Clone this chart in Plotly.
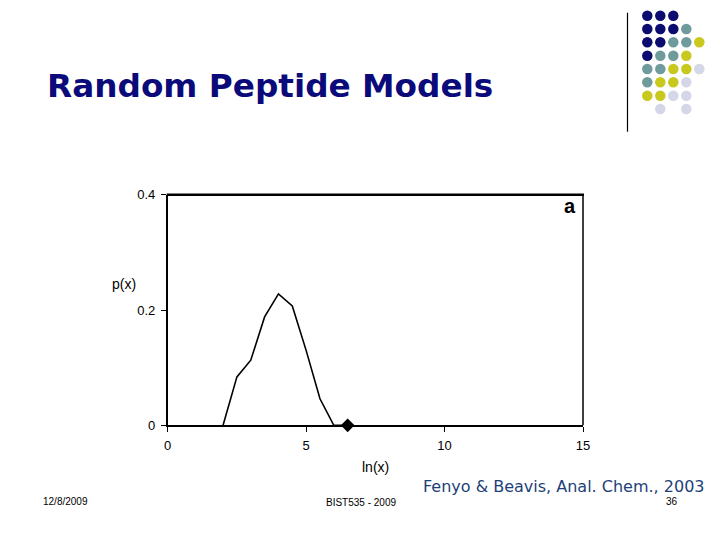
import plotly.graph_objects as go

# ---- data ----
ln_x = [2.0, 2.5, 3.0, 3.5, 4.0, 4.5, 5.0, 5.5, 6.0, 6.5]
p_x = [0.0, 0.084, 0.113, 0.188, 0.228, 0.207, 0.130, 0.046, 0.0, 0.0]
marker_x = [6.5]
marker_y = [0.0]
x_ticks = [0, 5, 10, 15]
y_ticks = [0, 0.2, 0.4]
y_tick_labels = ["0", "0.2", "0.4"]

# decorative dot grid (rows top->bottom, columns left->right); None = empty
dot_grid = [
    ["N", "N", "N", None, None],
    ["N", "N", "N", "T", None],
    ["N", "N", "T", "T", "Y"],
    ["N", "T", "T", "Y", None],
    ["T", "T", "Y", "Y", "L"],
    ["T", "Y", "Y", "L", None],
    ["Y", "Y", "L", "L", None],
    [None, "L", None, "L", None],
]
dot_colors = {"N": "#0b0b70", "T": "#6f9b9d", "Y": "#c8c81e", "L": "#d5d6e8"}

W, H = 720, 540
x0, x1 = 167.7, 583.0
y0, y1 = 194.7, 425.3

fig = go.Figure()

fig.add_trace(go.Scatter(
    x=ln_x, y=p_x, mode="lines",
    line=dict(color="black", width=1.6),
    showlegend=False, hoverinfo="skip",
))
fig.add_trace(go.Scatter(
    x=marker_x, y=marker_y, mode="markers",
    marker=dict(symbol="diamond", size=10.5, color="black"),
    showlegend=False, cliponaxis=False,
))

# dot grid on a pixel-space axis covering the whole page
col_px = [647.3, 660.3, 673.3, 686.3, 699.3]
row_px = [15.7, 29.0, 42.3, 55.7, 69.0, 82.3, 95.7, 109.0]
for key, col in dot_colors.items():
    xs, ys = [], []
    for r, row in enumerate(dot_grid):
        for c, v in enumerate(row):
            if v == key:
                xs.append(col_px[c])
                ys.append(row_px[r])
    fig.add_trace(go.Scatter(
        x=xs, y=ys, mode="markers", xaxis="x2", yaxis="y2",
        marker=dict(size=10.5, color=col, line=dict(width=0)),
        showlegend=False, hoverinfo="skip",
    ))

fig.update_layout(
    width=W, height=H, autosize=False,
    margin=dict(l=0, r=0, t=0, b=0, pad=0, autoexpand=False),
    paper_bgcolor="white", plot_bgcolor="rgba(0,0,0,0)",
    font=dict(family="Liberation Sans, Arial, sans-serif", color="black"),
    xaxis=dict(
        domain=[x0 / W, x1 / W], range=[0, 15], automargin=False,
        tickvals=x_ticks, ticks="outside", ticklen=5, tickcolor="black",
        tickwidth=1.2, showline=True, linecolor="black", linewidth=1.5,
        showgrid=False, zeroline=False, tickfont=dict(size=13),
        ticklabelstandoff=2, fixedrange=True,
    ),
    yaxis=dict(
        domain=[1 - y1 / H, 1 - y0 / H], range=[0, 0.4], automargin=False,
        tickvals=y_ticks, ticktext=y_tick_labels, ticks="outside",
        ticklen=5, tickcolor="black", tickwidth=1.2,
        showline=True, linecolor="black", linewidth=1.5,
        showgrid=False, zeroline=False, tickfont=dict(size=13),
        ticklabelstandoff=3, fixedrange=True,
    ),
    xaxis2=dict(domain=[0, 1], range=[0, W], visible=False, anchor="y2",
                fixedrange=True, automargin=False),
    yaxis2=dict(domain=[0, 1], range=[H, 0], visible=False, anchor="x2",
                fixedrange=True, automargin=False),
    shapes=[
        # top border (thick)
        dict(type="line", xref="paper", yref="paper",
             x0=(x0 - 1) / W, x1=(x1 + 1) / W, y0=1 - y0 / H, y1=1 - y0 / H,
             line=dict(color="black", width=2.5)),
        # right border
        dict(type="line", xref="paper", yref="paper",
             x0=x1 / W, x1=x1 / W, y0=1 - y0 / H, y1=1 - y1 / H,
             line=dict(color="black", width=1.5)),
        # decorative vertical rule
        dict(type="line", xref="paper", yref="paper",
             x0=627.5 / W, x1=627.5 / W, y0=1 - 12.7 / H, y1=1 - 131.7 / H,
             line=dict(color="black", width=1.2)),
    ],
    annotations=[
        dict(text="<b>Random Peptide Models</b>", xref="paper", yref="paper",
             x=45 / W, y=1 - 86 / H, xanchor="left", yanchor="middle",
             showarrow=False,
             font=dict(size=32.7, color="#0a0a7a",
                       family="DejaVu Sans, Liberation Sans, sans-serif")),
        dict(text="p(x)", xref="paper", yref="paper",
             x=124 / W, y=1 - 283.5 / H, xanchor="center", yanchor="middle",
             showarrow=False, font=dict(size=14)),
        dict(text="ln(x)", xref="paper", yref="paper",
             x=375.5 / W, y=1 - 466.5 / H, xanchor="center", yanchor="middle",
             showarrow=False, font=dict(size=14)),
        dict(text="<b>a</b>", xref="paper", yref="paper",
             x=570 / W, y=1 - 206 / H, xanchor="center", yanchor="middle",
             showarrow=False, font=dict(size=20)),
        dict(text="Fenyo & Beavis, Anal. Chem., 2003", xref="paper",
             yref="paper", x=707 / W, y=1 - 486 / H, xanchor="right",
             yanchor="middle", showarrow=False,
             font=dict(size=16, color="#1e3f78",
                       family="DejaVu Sans, Liberation Sans, sans-serif")),
        dict(text="12/8/2009", xref="paper", yref="paper",
             x=41 / W, y=1 - 501 / H, xanchor="left", yanchor="middle",
             showarrow=False, font=dict(size=10)),
        dict(text="BIST535 - 2009", xref="paper", yref="paper",
             x=360.5 / W, y=1 - 502 / H, xanchor="center", yanchor="middle",
             showarrow=False, font=dict(size=10)),
        dict(text="36", xref="paper", yref="paper",
             x=672 / W, y=1 - 501.5 / H, xanchor="center", yanchor="middle",
             showarrow=False, font=dict(size=10)),
    ],
)

fig.write_html(
    "out.html",
    config={"displayModeBar": False, "responsive": False},
    post_script=("document.body.style.margin='0px';"
                 "document.body.style.overflow='hidden';"
                 "document.documentElement.style.overflow='hidden';"),
)
